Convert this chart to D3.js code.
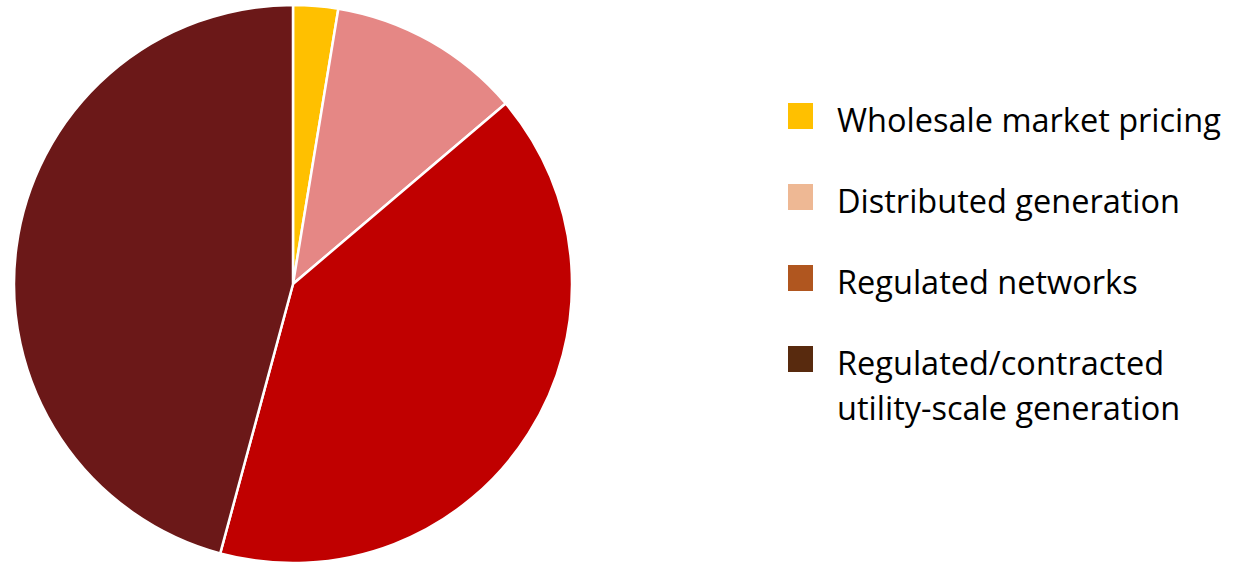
<!DOCTYPE html>
<html><head><meta charset="utf-8">
<script src="https://cdn.jsdelivr.net/npm/d3@7"></script>
<style>html,body{margin:0;padding:0;background:#fff;}</style>
</head><body>
<svg id="chart" width="1239" height="562"></svg>
<script>
const categories = ["Wholesale market pricing", "Distributed generation", "Regulated networks", "Regulated/contracted utility-scale generation"];
const values = [2.6, 11.2, 40.4, 45.8];
const sliceColors = ["#FFC000", "#E58785", "#C00000", "#6B1818"];
const legendColors = ["#FFC000", "#EEB894", "#B0561F", "#582A0E"];
const legendLines = [["Wholesale market pricing"], ["Distributed generation"], ["Regulated networks"], ["Regulated/contracted", "utility-scale generation"]];

const svg = d3.select("#chart");
const cx = 293, cy = 284, r = 279;
const pie = d3.pie().sort(null).value(d => d)(values);
const arc = d3.arc().innerRadius(0).outerRadius(r);
svg.append("g").attr("transform", `translate(${cx},${cy})`)
  .selectAll("path").data(pie).join("path")
  .attr("d", arc)
  .attr("fill", (d, i) => sliceColors[i])
  .attr("stroke", "#fff").attr("stroke-width", 2.5).attr("stroke-linejoin", "round");

const lg = svg.append("g");
const y0 = 103, step = 81;
categories.forEach((c, i) => {
  const g = lg.append("g").attr("transform", `translate(788,${y0 + i * step})`);
  g.append("rect").attr("width", 25).attr("height", 26).attr("fill", legendColors[i]);
  const t = g.append("text").attr("x", 49).attr("y", 29)
    .attr("font-family", "'Open Sans', sans-serif").attr("font-size", 32.5).attr("fill", "#000");
  legendLines[i].forEach((ln, j) => {
    t.append("tspan").attr("x", 49).attr("dy", j === 0 ? 0 : 45).text(ln);
  });
});
</script>
</body></html>
